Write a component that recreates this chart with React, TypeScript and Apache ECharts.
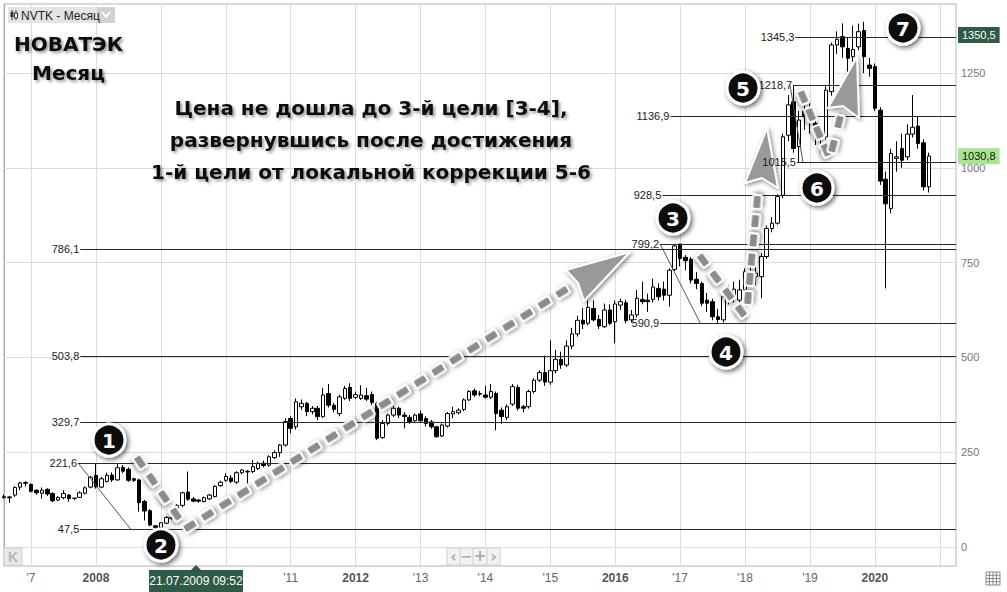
import React, { useEffect, useRef } from "react";
import * as echarts from "echarts";

// ---------- categories (monthly) ----------
const months: string[] = [];
for (let y = 2006; y <= 2021; y++) {
  for (let m = 1; m <= 12; m++) {
    if (y === 2006 && m < 8) continue;
    if (y === 2021 && m > 4) continue;
    months.push(`${y}-${m < 10 ? "0" + m : m}`);
  }
}
const lastIndex = months.length - 1;

// year labels visible on the time axis ('09 and '10 are covered by the date box in the reference)
const yearTickLabels: Record<string, string> = {
  "2007": "'7", "2008": "2008", "2011": "'11",
  "2012": "2012", "2013": "'13", "2014": "'14", "2015": "'15", "2016": "2016",
  "2017": "'17", "2018": "'18", "2019": "'19", "2020": "2020",
};
const boldYears = ["2008", "2012", "2016", "2020"];
const yTicks = [0, 250, 500, 750, 1000, 1250];

// ---------- candles [open, close, low, high] ----------
const c2006 = [[130,133,128,138],[132,130,117,135],[137,157,132,160],[158,169,150,172],[168,170,160,174]];
const c2007 = [[165,147,144,168],[150,143,138,152],[142,150,128,157],[152,140,135,155],[141,122,118,145],[124,131,121,134],[130,141,126,150],[137,128,120,140],[128,129,124,131],[131,143,129,147],[142,156,139,160],[158,184,155,187]];
const c2008 = [[189,159,154,221.6],[158,180,155,185],[173,189,170,196],[190,177,172,197],[177,209,175,221],[210,200,195,216],[205,176,172,210],[180,176,172,183],[177,117,93,180],[120,95,70,124],[96,58,55,100],[56,52,47.5,58]];
const c2009 = [[51,64,48,66],[63,78,60,82],[76,77,72,80],[79,110,76,113],[110,143,105,146],[145,126,122,199],[127,121,118,132],[124,121,117,126],[120,130,118,133],[127,137,124,140],[133,160,131,163],[162,171,159,175]];
const c2010 = [[176,186,172,195],[182,173,168,190],[171,196,166,200],[196,203,192,206],[198,200,168,203],[199,212,195,229],[207,221,203,225],[221,215,210,228],[216,238,212,242],[236,249,232,255],[249,269,238,272],[269,331,265,340]];
const c2011 = [[339,313,300,345],[317,383,310,392],[370,379,362,389],[379,357,345,383],[357,366,350,372],[366,344,335,372],[344,401,340,420],[405,374,368,430],[374,363,355,380],[352,396,345,402],[392,418,388,425],[421,392,385,432]];
const c2012 = [[395,402,390,410],[392,401,388,427],[399,390,385,420],[402,381,375,410],[379,287,282,382],[289,326,285,335],[326,348,320,352],[348,366,343,372],[366,348,340,370],[348,344,313,356],[342,330,325,348],[333,348,328,352]];
const c2013 = [[351,333,328,360],[339,326,318,345],[330,317,312,335],[317,291,288,320],[293,322,290,326],[319,352,315,356],[351,357,340,370],[354,361,350,366],[363,388,358,392],[388,410,385,414],[412,401,396,418],[403,405,398,412]];
const c2014 = [[401,395,392,425],[395,410,390,430],[405,352,308,410],[361,344,325,368],[342,370,335,376],[377,423,372,430],[421,366,360,428],[370,366,355,375],[370,410,365,415],[410,440,405,445],[440,460,435,466],[460,435,425,505]];
const c2015 = [[435,465,428,545],[465,495,458,520],[495,480,470,515],[480,530,475,545],[530,562,522,578],[562,598,555,610],[598,588,575,630],[590,632,585,650],[629,599,595,651],[600,583,575,612],[581,625,578,642],[625,590,585,640]];
const c2016 = [[594,641,537,650],[638,647,625,655],[644,597,590,652],[599,612,592,625],[612,656,605,678],[653,647,640,700],[651,647,620,668],[653,686,645,708],[682,660,650,695],[680,664,650,700],[664,730,634,735],[732,794,728,799.2]];
const c2017 = [[799,761,740,799.2],[764,755,730,770],[759,704,695,765],[706,695,680,725],[695,643,635,700],[651,643,620,670],[647,607,598,655],[607,600,590.9,628],[599,660,592,668],[669,660,640,690],[660,680,645,700],[651,678,645,705]];
const c2018 = [[678,726,670,735],[722,713,700,745],[713,722,690,740],[713,766,656,775],[766,840,760,848],[840,854,830,870],[854,924,850,930],[928,1082,920,1090],[1086,1166,1070,1192],[1174,1051,1040,1218.7],[1056,1126,1015.5,1150],[1150,1135,1100,1165]];
const c2019 = [[1140,1126,1090,1170],[1117,1100,1060,1135],[1091,1078,1040,1110],[1082,1205,1075,1215],[1201,1324,1190,1330],[1324,1339,1300,1360],[1346,1319,1290,1381],[1315,1289,1250,1345],[1293,1312,1280,1375],[1319,1359,1310,1380],[1362,1293,1250,1385],[1271,1262,1240,1290]];
const c2020 = [[1267,1157,1150,1275],[1152,965,955,1160],[970,905,682,990],[893,1038,880,1050],[1025,1029,990,1070],[1051,1020,1000,1090],[1029,1089,1020,1115],[1089,1107,1080,1192],[1110,1064,1050,1135],[1066,950,940,1075],[950,1031,935,1040]];

const candles = [
  ...c2006, ...c2007, ...c2008, ...c2009, ...c2010, ...c2011, ...c2012,
  ...c2013, ...c2014, ...c2015, ...c2016, ...c2017, ...c2018, ...c2019, ...c2020,
];

// ---------- levels (value, label, start month index) ----------
const levelValues = [47.5, 221.6, 329.7, 503.8, 786.1, 799.2, 590.9, 928.5, 1136.9, 1015.5, 1218.7, 1345.3];
const levelLabels = ["47,5", "221,6", "329,7", "503,8", "786,1", "799,2", "590,9", "928,5", "1136,9", "1015,5", "1218,7", "1345,3"];
const levelStartMonth = [14.1, 13.7, 14.1, 14.1, 14.1, 121.3, 121.3, 121.7, 123.2, 146.6, 145.9, 146.3];

// diagonals [monthIdx1, value1, monthIdx2, value2]
const diagonals = [
  [13.7, 221.6, 23.4, 47.5],
  [121.3, 799.2, 128.7, 590.9],
  [145.3, 1218.7, 147.7, 1015.5],
];

const flagHigh = 1350.5;
const flagLast = 1030.8;

// ---------- decorations ----------
const shadowStyle = { shadowBlur: 4, shadowColor: "rgba(0,0,0,0.5)", shadowOffsetX: 1.5, shadowOffsetY: 1.5 };

function dashSegments(segs: number[][]) {
  const els: any[] = [];
  segs.forEach(([x1, y1, x2, y2, n]) => {
    const ang = -Math.atan2(y2 - y1, x2 - x1);
    for (let k = 0; k < n; k++) {
      const t = n === 1 ? 0.5 : k / (n - 1);
      els.push({
        type: "rect",
        x: x1 + (x2 - x1) * t,
        y: y1 + (y2 - y1) * t,
        rotation: ang,
        z: 100,
        shape: { x: -7, y: -4.5, width: 14, height: 9, r: 2 },
        style: { fill: "#8c8c8c", stroke: "#fff", lineWidth: 2, ...shadowStyle },
      });
    }
  });
  return els;
}

const arrowShafts = [
  [140, 462, 176, 514, 4],
  [190, 526, 562, 292, 22],
  [703, 260, 741, 311, 4],
  [748, 298, 757, 202, 6],
  [803, 97, 826, 150, 4],
  [833, 146, 839, 122, 2],
];
const arrowHeads = [
  { z: 101, pts: [[630, 252], [566, 270], [578, 283], [584, 301]] },
  { z: 4.5, pts: [[767, 128], [778, 188], [762, 178], [745, 183]] },
  { z: 101, pts: [[857, 57], [859, 118], [843, 106], [828, 108]] },
];
const circles = [
  { n: "1", x: 109, y: 440 },
  { n: "2", x: 161, y: 545 },
  { n: "3", x: 673, y: 218 },
  { n: "4", x: 726, y: 352 },
  { n: "5", x: 743, y: 88 },
  { n: "6", x: 817, y: 188 },
  { n: "7", x: 903, y: 28 },
];

function txt(text: string, x: number, y: number, size: number, opts: any = {}) {
  return {
    type: "text",
    x,
    y,
    z: 110,
    style: {
      text,
      fontFamily: opts.family || "DejaVu Sans",
      fontSize: size,
      fontWeight: opts.weight || "normal",
      fill: opts.fill || "#111",
      align: opts.align || "left",
      textAlign: opts.align || "left",
      verticalAlign: "middle",
      textVerticalAlign: "middle",
      ...(opts.shadow
        ? { textShadowColor: "rgba(0,0,0,0.4)", textShadowBlur: 3, textShadowOffsetX: 2, textShadowOffsetY: 2 }
        : {}),
    },
  };
}

const isJan = (_i: number, v: string) => v.endsWith("-01");

export default function App() {
  const ref = useRef<HTMLDivElement>(null);
  useEffect(() => {
    const chart = echarts.init(ref.current!, null, { renderer: "svg" });

    const graphic: any[] = [];
    // top-left instrument box
    graphic.push({ type: "rect", z: 100, shape: { x: 8, y: 7, width: 107, height: 16 }, style: { fill: "#e4e4e4" } });
    graphic.push({ type: "rect", z: 101, shape: { x: 97, y: 7, width: 18, height: 16 }, style: { fill: "#d2d2d2" } });
    graphic.push({ type: "polyline", z: 102, shape: { points: [[102, 12], [106, 17], [110, 12]] }, style: { stroke: "#fff", lineWidth: 2, fill: "none" } });
    graphic.push({ type: "line", z: 102, shape: { x1: 12, y1: 10, x2: 12, y2: 20 }, style: { stroke: "#333", lineWidth: 1 } });
    graphic.push({ type: "rect", z: 102, shape: { x: 10.5, y: 12, width: 3, height: 5 }, style: { fill: "#333" } });
    graphic.push({ type: "line", z: 102, shape: { x1: 16, y1: 10, x2: 16, y2: 20 }, style: { stroke: "#333", lineWidth: 1 } });
    graphic.push({ type: "rect", z: 102, shape: { x: 14.5, y: 13, width: 3, height: 5 }, style: { fill: "#fff", stroke: "#333", lineWidth: 1 } });
    graphic.push(txt("NVTK - Месяц", 21, 15.5, 12, { family: "Liberation Sans", fill: "#222" }));

    // titles
    graphic.push(txt("НОВАТЭК", 14, 44, 20, { weight: "bold", shadow: true }));
    graphic.push(txt("Месяц", 32, 73, 20, { weight: "bold", shadow: true }));
    graphic.push(txt("Цена не дошла до 3-й цели [3-4],", 371, 108, 20, { weight: "bold", shadow: true, align: "center" }));
    graphic.push(txt("развернувшись после достижения", 371, 140, 20, { weight: "bold", shadow: true, align: "center" }));
    graphic.push(txt("1-й цели от локальной коррекции 5-6", 371, 172, 20, { weight: "bold", shadow: true, align: "center" }));

    // arrows
    graphic.push(...dashSegments(arrowShafts));
    arrowHeads.forEach((h) => {
      graphic.push({ type: "polygon", z: h.z, shape: { points: h.pts }, style: { fill: "#999", stroke: "#fff", lineWidth: 2, lineJoin: "round", ...shadowStyle } });
    });

    // numbered circles
    circles.forEach((c) => {
      graphic.push({
        type: "circle", z: 105, shape: { cx: c.x, cy: c.y, r: 16 },
        style: { fill: "#111", stroke: "#fff", lineWidth: 3, shadowBlur: 5, shadowColor: "rgba(0,0,0,0.6)", shadowOffsetX: 2, shadowOffsetY: 2 },
      });
      graphic.push({ ...txt(c.n, c.x, c.y + 1, 20, { weight: "bold", fill: "#fff", align: "center" }), z: 106 });
    });

    // bottom controls
    graphic.push({ type: "rect", z: 100, shape: { x: 4, y: 548, width: 18, height: 17 }, style: { fill: "#e9e9e9", stroke: "#cfcfcf" } });
    graphic.push(txt("K", 13, 557, 14, { weight: "bold", fill: "#b5b5b5", align: "center", family: "Liberation Sans" }));
    graphic.push({ type: "rect", z: 100, shape: { x: 447, y: 548, width: 53, height: 17 }, style: { fill: "#f2f2f2", stroke: "#d0d0d0" } });
    [460, 473, 487].forEach((x) => graphic.push({ type: "line", z: 101, shape: { x1: x, y1: 548, x2: x, y2: 565 }, style: { stroke: "#d0d0d0" } }));
    graphic.push(txt("‹", 453.5, 556, 16, { fill: "#aaa", align: "center", weight: "bold" }));
    graphic.push(txt("−", 466.5, 556, 14, { fill: "#aaa", align: "center", weight: "bold" }));
    graphic.push(txt("+", 480, 556, 15, { fill: "#aaa", align: "center", weight: "bold" }));
    graphic.push(txt("›", 493.5, 556, 16, { fill: "#aaa", align: "center", weight: "bold" }));

    // tooltip date box
    graphic.push({ type: "polygon", z: 120, shape: { points: [[191, 570], [196, 565], [201, 570]] }, style: { fill: "#2d5b45" } });
    graphic.push({ type: "rect", z: 120, shape: { x: 149, y: 570, width: 94, height: 22 }, style: { fill: "#2d5b45" } });
    graphic.push({ ...txt("21.07.2009 09:52", 196, 581, 12, { family: "Liberation Sans", fill: "#fff", align: "center" }), z: 121 });

    // grid icon bottom-right
    graphic.push({ type: "rect", z: 100, shape: { x: 986, y: 572, width: 14, height: 13 }, style: { fill: "none", stroke: "#888" } });
    [989.5, 993, 996.5].forEach((x) => graphic.push({ type: "line", z: 100, shape: { x1: x, y1: 572, x2: x, y2: 585 }, style: { stroke: "#888" } }));
    [575.25, 578.5, 581.75].forEach((y) => graphic.push({ type: "line", z: 100, shape: { x1: 986, y1: y, x2: 1000, y2: y }, style: { stroke: "#888" } }));

    const levelLines = levelValues.map((v, k) => [
      {
        coord: [levelStartMonth[k], v],
        lineStyle: { color: "#2a2a2a", width: 1, type: "solid" },
        label: {
          show: true, position: "start", formatter: levelLabels[k], distance: 1,
          color: "#1a1a1a", fontSize: 11, fontFamily: "Liberation Sans", padding: [0, 0, 10, 0],
        },
      },
      { coord: [lastIndex, v] },
    ]);

    const flagItem = (v: number, bg: string, fg: string) => [
      {
        coord: [lastIndex - 1, v],
        lineStyle: { color: "rgba(0,0,0,0)", width: 1 },
        label: {
          show: true, position: "end", distance: 2, formatter: String(v).replace(".", ","),
          backgroundColor: bg, color: fg, fontSize: 11, fontFamily: "Liberation Sans", padding: [3, 4, 2, 4],
        },
      },
      { coord: [lastIndex, v] },
    ];

    const option: any = {
      animation: false,
      backgroundColor: "#fff",
      grid: { left: 4, right: 51, top: 4, bottom: 26, show: true, borderColor: "#b4b4b4", borderWidth: 1, backgroundColor: "#fff" },
      xAxis: [
        {
          type: "category",
          data: months,
          boundaryGap: false,
          axisLine: { show: true, lineStyle: { color: "#a8a8a8" } },
          axisTick: { show: false },
          axisLabel: {
            interval: (i: number, v: string) => isJan(i, v) && yearTickLabels[v.slice(0, 4)] !== undefined,
            formatter: (v: string) => {
              const y = v.slice(0, 4);
              const t = yearTickLabels[y];
              if (!t || !v.endsWith("-01")) return "";
              return boldYears.includes(y) ? `{b|${t}}` : t;
            },
            color: "#666",
            fontSize: 12,
            fontFamily: "Liberation Sans",
            margin: 6,
            rich: { b: { fontWeight: "bold", color: "#555", fontSize: 12, fontFamily: "Liberation Sans" } },
          },
          splitLine: { show: true, interval: isJan, lineStyle: { color: "#dcdcdc", width: 1 } },
        },
        { type: "value", min: 0, max: lastIndex, show: false },
      ],
      yAxis: {
        type: "value",
        position: "right",
        min: -50,
        max: 1432,
        axisLine: { show: true, lineStyle: { color: "#a8a8a8" } },
        axisTick: { show: true, customValues: yTicks, length: 3, lineStyle: { color: "#a8a8a8" } },
        axisLabel: {
          customValues: yTicks,
          formatter: (v: number) => String(v),
          color: "#777", fontSize: 11, fontFamily: "Liberation Sans", margin: 5,
        },
        splitLine: { show: false },
      },
      graphic,
      series: [
        {
          type: "line",
          xAxisIndex: 1,
          data: [],
          z: 1,
          markLine: {
            silent: true,
            symbol: ["none", "none"],
            z: 1,
            label: { show: false },
            lineStyle: { color: "#dcdcdc", width: 1, type: "solid" },
            data: yTicks.map((v) => [{ coord: [0, v] }, { coord: [lastIndex, v] }]),
          },
        },
        {
          type: "candlestick",
          xAxisIndex: 0,
          z: 3,
          barWidth: 4,
          data: candles,
          itemStyle: { color: "#ffffff", color0: "#000000", borderColor: "#000000", borderColor0: "#000000", borderWidth: 1 },
        },
        ...diagonals.map((d) => ({
          type: "line",
          xAxisIndex: 1,
          z: 4,
          symbol: "none",
          silent: true,
          data: [[d[0], d[1]], [d[2], d[3]]],
          lineStyle: { color: "#555", width: 1 },
        })),
        {
          type: "line",
          xAxisIndex: 1,
          data: [],
          z: 4,
          markLine: {
            silent: true,
            symbol: ["none", "none"],
            data: [...levelLines, flagItem(flagHigh, "#2d5b45", "#ffffff"), flagItem(flagLast, "#a9e58f", "#111111")],
          },
        },
      ],
    };

    chart.setOption(option);
    return () => chart.dispose();
  }, []);

  return (
    <div
      ref={ref}
      style={{ position: "fixed", left: 0, top: 0, width: 1007, height: 592, background: "#fff" }}
    />
  );
}
